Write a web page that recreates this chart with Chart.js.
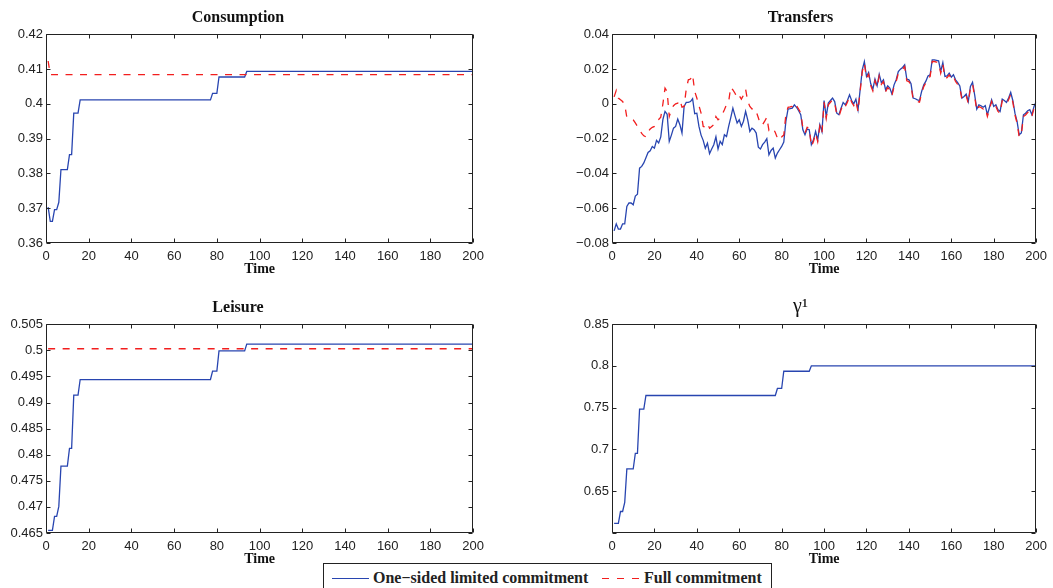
<!DOCTYPE html>
<html>
<head>
<meta charset="utf-8">
<script src="https://cdn.jsdelivr.net/npm/chart.js@4.4.1/dist/chart.umd.min.js"></script>
<style>
  html, body { margin: 0; padding: 0; background: #fff; }
  body { width: 1053px; height: 588px; position: relative; overflow: hidden; }
  canvas { position: absolute; }
  #legend {
    position: absolute; left: 323px; top: 563px; width: 447px; height: 34px;
    border: 1px solid #222; background: #fff;
    font: bold 16px "Liberation Serif", "Times New Roman", serif; color: #222;
  }
  #legend .sample { position: absolute; top: 14px; height: 1.3px; }
  #legend .label { position: absolute; top: 4px; line-height: 20px; white-space: nowrap; }
</style>
</head>
<body>
<canvas id="consumption" width="490" height="285" style="left:0;top:0"></canvas>
<canvas id="transfers" width="493" height="285" style="left:560px;top:0"></canvas>
<canvas id="leisure" width="490" height="285" style="left:0;top:290px"></canvas>
<canvas id="gamma" width="493" height="285" style="left:560px;top:290px"></canvas>
<div id="legend">
  <span class="sample" style="left:8px;width:37px;background:#2845b0"></span>
  <span class="label" style="left:49px">One−sided limited commitment</span>
  <span class="sample" style="left:278px;width:38px;background:repeating-linear-gradient(to right,#f21e1e 0 7px,transparent 7px 15px)"></span>
  <span class="label" style="left:320px">Full commitment</span>
</div>
<script>
// time axis
const periods = Array.from({ length: 200 }, (_, i) => i + 1);
const xTicks = [0, 20, 40, 60, 80, 100, 120, 140, 160, 180, 200];
const xTickLabels = ['0', '20', '40', '60', '80', '100', '120', '140', '160', '180', '200'];

// step-like series share the same break points
const stepTimes = [1, 2, 3, 4, 5, 6, 7, 10, 11, 12, 13, 15, 16, 77, 78, 80, 81, 93, 94, 200];
const consumptionOneSided = [0.3703, 0.3662, 0.3662, 0.3696, 0.3696, 0.3717, 0.3811, 0.3811, 0.3854, 0.3854,
  0.3973, 0.3973, 0.4011, 0.4011, 0.4030, 0.4030, 0.4077, 0.4077, 0.4093, 0.4093];
const leisureOneSided = [0.4655, 0.4655, 0.4655, 0.4682, 0.4682, 0.4701, 0.4778, 0.4778, 0.4812, 0.4812,
  0.4914, 0.4914, 0.4944, 0.4944, 0.4960, 0.4960, 0.4999, 0.4999, 0.5012, 0.5012];
const gammaOneSided = [0.6114, 0.6114, 0.6114, 0.6257, 0.6257, 0.6365, 0.6766, 0.6766, 0.6953, 0.6953,
  0.7482, 0.7482, 0.7645, 0.7645, 0.7729, 0.7729, 0.7935, 0.7935, 0.7999, 0.7999];

const consumptionFullTimes = [1, 2, 200];
const consumptionFull = [0.4123, 0.4084, 0.4084];
const leisureFullTimes = [1, 200];
const leisureFull = [0.5003, 0.5003];

// transfers, one value per period 1..200
const transfersOneSided = [
  -0.073, -0.069, -0.072, -0.072, -0.069, -0.069, -0.059, -0.057, -0.057, -0.058,
  -0.053, -0.052, -0.037, -0.036, -0.034, -0.031, -0.028, -0.027, -0.0245, -0.0255,
  -0.021, -0.0225, -0.019, -0.009, -0.0044, -0.006, -0.0216, -0.018, -0.014, -0.013,
  -0.0088, -0.012, -0.0168, -0.0015, 0.0008, 0.0008, 0.0013, 0.0029, -0.0057, -0.0054,
  -0.013, -0.018, -0.021, -0.0255, -0.0226, -0.0287, -0.026, -0.0235, -0.019, -0.026,
  -0.0216, -0.0235, -0.0178, -0.0188, -0.013, -0.008, -0.0025, -0.0069, -0.011, -0.0092,
  -0.013, -0.010, -0.0044, -0.0092, -0.0159, -0.014, -0.0149, -0.0168, -0.0249, -0.026,
  -0.0235, -0.022, -0.020, -0.0293, -0.0268, -0.0255, -0.0312, -0.0283, -0.0264, -0.0245,
  -0.022, -0.010, -0.003, -0.0028, -0.0025, -0.0006, -0.002, -0.004, -0.0063, -0.0149,
  -0.0178, -0.0145, -0.0149, -0.0235, -0.0207, -0.0159, -0.0207, -0.012, -0.0159, 0.0019,
  -0.0073, 0.0004, 0.0019, 0.0033, 0.0013, -0.0054, -0.0063, -0.0025, 0.0008, -0.0006,
  0.0019, 0.0052, 0.0019, 0.0, 0.0027, -0.0034, 0.008, 0.0195, 0.0243, 0.0157,
  0.018, 0.0115, 0.0084, 0.0142, 0.0103, 0.017, 0.0122, 0.0138, 0.008, 0.0103,
  0.009, 0.0057, 0.0109, 0.0138, 0.0185, 0.0199, 0.0209, 0.0224, 0.0142, 0.0138,
  0.0115, 0.0033, 0.0029, 0.0023, 0.0019, 0.0071, 0.0109, 0.013, 0.016, 0.0167,
  0.0253, 0.0253, 0.025, 0.0247, 0.0186, 0.0237, 0.0157, 0.016, 0.0176, 0.0153,
  0.0167, 0.0138, 0.0122, 0.0103, 0.0033, 0.0042, 0.0056, 0.0013, 0.010, 0.0124,
  0.0052, -0.003, -0.0006, -0.0011, -0.002, -0.0011, -0.0063, -0.002, 0.0023, -0.0015,
  -0.0006, -0.0034, -0.0044, 0.0027, 0.0019, 0.0008, 0.0033, 0.0065, 0.0019, -0.0054,
  -0.0101, -0.0178, -0.0168, -0.0063, -0.0054, -0.004, -0.0034, -0.0063, -0.0015, 0.0013
];
const transfersFull = [
  0.004, 0.0077, 0.0033, 0.0023, 0.0013, -0.0006, -0.0077, -0.0082, -0.0085, -0.0092,
  -0.011, -0.013, -0.0149, -0.017, -0.0184, -0.019, -0.016, -0.0145, -0.0135, -0.013,
  -0.0101, -0.009, -0.0077, 0.0, 0.009, 0.007, -0.0073, -0.0034, -0.0011, 0.0,
  0.0004, 0.0023, -0.0019, -0.0015, 0.0084, 0.0138, 0.0142, 0.0167, 0.0071, 0.0033,
  -0.001, -0.0054, -0.013, -0.0134, -0.0115, -0.014, -0.013, -0.012, -0.0073, -0.0092,
  -0.0082, -0.006, -0.0034, -0.0005, 0.0013, 0.0096, 0.008, 0.0061, 0.0033, 0.0046,
  0.0027, 0.005, 0.0084, 0.0013, -0.0015, -0.003, -0.0025, -0.0044, -0.008, -0.012,
  -0.012, -0.010, -0.0077, -0.0153, -0.0145, -0.014, -0.0165, -0.0197, -0.0178, -0.019,
  -0.018, -0.006, -0.002, -0.0018, -0.0015, 0.0004, -0.001, -0.003, -0.0053, -0.0139,
  -0.0168, -0.0135, -0.0139, -0.0245, -0.0217, -0.0169, -0.0217, -0.013, -0.0169, 0.0009,
  -0.0083, -0.0006, 0.0009, 0.0023, 0.0003, -0.0064, -0.0073, -0.0035, -0.0002, -0.0016,
  0.0009, 0.0042, 0.0009, -0.001, 0.0017, -0.0044, 0.007, 0.0185, 0.0233, 0.0147,
  0.017, 0.0105, 0.0074, 0.0132, 0.0093, 0.016, 0.0112, 0.0128, 0.007, 0.0093,
  0.008, 0.0047, 0.0099, 0.0128, 0.0175, 0.0189, 0.0199, 0.0214, 0.0132, 0.0128,
  0.0105, 0.0023, 0.0019, 0.0013, 0.0009, 0.0061, 0.0099, 0.012, 0.015, 0.0157,
  0.0243, 0.0243, 0.024, 0.0237, 0.0176, 0.0227, 0.0147, 0.015, 0.0166, 0.0143,
  0.0157, 0.0128, 0.0112, 0.0093, 0.0023, 0.0032, 0.0046, 0.0003, 0.009, 0.0114,
  0.0042, -0.004, -0.0016, -0.0021, -0.003, -0.0021, -0.0073, -0.003, 0.0013, -0.0025,
  -0.0016, -0.0044, -0.0054, 0.0017, 0.0009, -0.0002, 0.0023, 0.0055, 0.0009, -0.0064,
  -0.0111, -0.019, -0.0178, -0.0073, -0.0064, -0.005, -0.0044, -0.0073, -0.0025, 0.0003
];

// y-axis ticks per panel
const consumptionTicks = [0.36, 0.37, 0.38, 0.39, 0.4, 0.41, 0.42];
const consumptionTickLabels = ['0.36', '0.37', '0.38', '0.39', '0.4', '0.41', '0.42'];
const transferTicks = [-0.08, -0.06, -0.04, -0.02, 0, 0.02, 0.04];
const transferTickLabels = ['−0.08', '−0.06', '−0.04', '−0.02', '0', '0.02', '0.04'];
const leisureTicks = [0.465, 0.47, 0.475, 0.48, 0.485, 0.49, 0.495, 0.5, 0.505];
const leisureTickLabels = ['0.465', '0.47', '0.475', '0.48', '0.485', '0.49', '0.495', '0.5', '0.505'];
const gammaTicks = [0.6, 0.65, 0.7, 0.75, 0.8, 0.85];
const gammaTickLabels = ['', '0.65', '0.7', '0.75', '0.8', '0.85'];

const BLUE = '#2845b0';
const RED = '#f21e1e';
const SERIF = '"Liberation Serif", "Times New Roman", serif';
const SANS = '"Liberation Sans", Arial, Helvetica, sans-serif';

function points(times, values) {
  return values.map((v, i) => ({ x: times[i], y: v }));
}

function oneSided(times, values) {
  return { data: points(times, values), borderColor: BLUE, borderWidth: 1.3, order: 1 };
}
function full(times, values) {
  return { data: points(times, values), borderColor: RED, borderWidth: 1.3, borderDash: [7, 7.5], order: 0 };
}

// matlab style box with inward ticks on all four sides
const boxPlugin = {
  id: 'matlabBox',
  afterDatasetsDraw(chart) {
    const { ctx, chartArea: a, scales } = chart;
    const L = Math.round(a.left) + 0.5, R = Math.round(a.right) - 0.5;
    const T = Math.round(a.top) + 0.5, B = Math.round(a.bottom) - 0.5;
    ctx.save();
    ctx.strokeStyle = '#222';
    ctx.lineWidth = 1;
    ctx.beginPath();
    ctx.rect(L, T, R - L, B - T);
    scales.x.ticks.forEach(t => {
      const px = Math.round(scales.x.getPixelForValue(t.value)) + 0.5;
      ctx.moveTo(px, B); ctx.lineTo(px, B - 4);
      ctx.moveTo(px, T); ctx.lineTo(px, T + 4);
    });
    scales.y.ticks.forEach(t => {
      const py = Math.round(scales.y.getPixelForValue(t.value)) + 0.5;
      ctx.moveTo(L, py); ctx.lineTo(L + 4, py);
      ctx.moveTo(R, py); ctx.lineTo(R - 4, py);
    });
    ctx.stroke();
    ctx.restore();
  }
};

function makePanel(id, title, titleFont, titlePad, yMin, yMax, yTicks, yLabels, yWidth, rightPad, datasets) {
  return new Chart(document.getElementById(id), {
    type: 'line',
    data: { datasets },
    options: {
      responsive: false,
      animation: false,
      devicePixelRatio: 1,
      layout: { padding: { left: 0, right: rightPad, top: 0, bottom: 0 } },
      elements: { point: { radius: 0 }, line: { tension: 0, fill: false } },
      plugins: {
        legend: { display: false },
        tooltip: { enabled: false },
        title: { display: true, text: title, color: '#111', font: titleFont, padding: titlePad }
      },
      scales: {
        x: {
          type: 'linear', min: 0, max: 200,
          grid: { display: false, drawTicks: false },
          border: { display: false },
          afterBuildTicks: s => { s.ticks = xTicks.map(v => ({ value: v })); },
          afterFit: s => { s.height = 42; },
          ticks: {
            padding: 6, color: '#222', autoSkip: false, maxRotation: 0,
            font: { family: SANS, size: 13 },
            callback: (v, i) => xTickLabels[i]
          },
          title: {
            display: true, text: 'Time', color: '#111',
            font: { family: SERIF, size: 14, weight: 'bold' },
            padding: { top: 0, bottom: 7 }
          }
        },
        y: {
          min: yMin, max: yMax,
          grid: { display: false, drawTicks: false },
          border: { display: false },
          afterBuildTicks: s => { s.ticks = yTicks.map(v => ({ value: v })); },
          afterFit: s => { s.width = yWidth; },
          ticks: {
            padding: 3, color: '#222', autoSkip: false,
            font: { family: SANS, size: 13 },
            callback: (v, i) => yLabels[i]
          }
        }
      }
    },
    plugins: [boxPlugin]
  });
}

const boldTitle = { family: SERIF, size: 16, weight: 'bold' };
const boldPad = { top: 8, bottom: 7 };

makePanel('consumption', 'Consumption', boldTitle, boldPad, 0.36, 0.42, consumptionTicks, consumptionTickLabels, 46, 14, [
  oneSided(stepTimes, consumptionOneSided),
  full(consumptionFullTimes, consumptionFull)
]);
makePanel('transfers', 'Transfers', boldTitle, boldPad, -0.08, 0.04, transferTicks, transferTickLabels, 52, 12, [
  oneSided(periods, transfersOneSided),
  full(periods, transfersFull)
]);
makePanel('leisure', 'Leisure', boldTitle, boldPad, 0.465, 0.505, leisureTicks, leisureTickLabels, 46, 14, [
  oneSided(stepTimes, leisureOneSided),
  full(leisureFullTimes, leisureFull)
]);
makePanel('gamma', 'γ¹', { family: SERIF, size: 20, weight: 'normal' }, { top: 5, bottom: 5 }, 0.6, 0.85, gammaTicks, gammaTickLabels, 52, 12, [
  oneSided(stepTimes, gammaOneSided)
]);
</script>
</body>
</html>
